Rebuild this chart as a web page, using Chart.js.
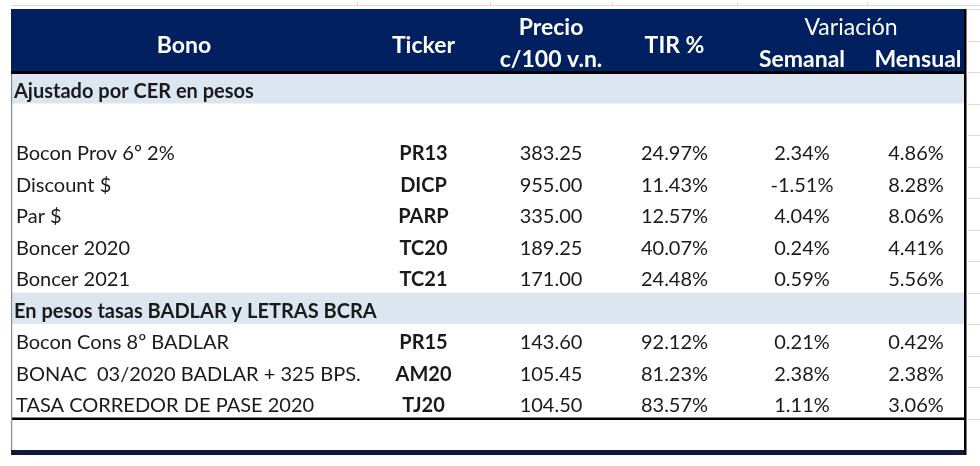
<!DOCTYPE html>
<html>
<head>
<meta charset="utf-8">
<script src="https://cdn.jsdelivr.net/npm/chart.js@4.4.1/dist/chart.umd.min.js"></script>
<style>
  html, body { margin: 0; padding: 0; background: #fff; }
  #wrap { width: 980px; height: 466px; }
</style>
</head>
<body>
<div id="wrap"><canvas id="tabla" width="980" height="466"></canvas></div>
<script>
// datos de la tabla
const secciones = ["Ajustado por CER en pesos", "En pesos tasas BADLAR y LETRAS BCRA"];
const bonos = ["Bocon Prov 6º 2%", "Discount $", "Par $", "Boncer 2020", "Boncer 2021",
  "Bocon Cons 8º BADLAR", "BONAC  03/2020 BADLAR + 325 BPS.", "TASA CORREDOR DE PASE 2020"];
const grupo = [0, 0, 0, 0, 0, 1, 1, 1];
const tickers = ["PR13", "DICP", "PARP", "TC20", "TC21", "PR15", "AM20", "TJ20"];
const precios = [383.25, 955.00, 335.00, 189.25, 171.00, 143.60, 105.45, 104.50];
const tir = [24.97, 11.43, 12.57, 40.07, 24.48, 92.12, 81.23, 83.57];
const semanal = [2.34, -1.51, 4.04, 0.24, 0.59, 0.21, 2.38, 1.11];
const mensual = [4.86, 8.28, 8.06, 4.41, 5.56, 0.42, 2.38, 3.06];
const titulos = ["Bono", "Ticker", "Precio", "c/100 v.n.", "TIR %", "Variación", "Semanal", "Mensual"];

// bordes de columna (unidades del eje x)
const bordes = [0, 346, 479, 601, 726, 856, 954];
const centro = i => (bordes[i] + bordes[i + 1]) / 2;

const NAVY = "#002060";
const CELESTE = "#dce6f1";
const TEXTO = "#1a1a1a";

// filas: 2 de encabezado, seccion, blanco, datos..., seccion, datos..., blanco
const filas = ["h1", "h2"];
secciones.forEach((s, g) => {
  filas.push("s" + g);
  if (g === 0) filas.push("b0");
  bonos.forEach((b, i) => { if (grupo[i] === g) filas.push("r" + i); });
});
filas.push("b1");

const pct = v => v.toFixed(2) + "%";
const columna = (textos, x, font, align, dx) => ({
  data: textos.map((t, i) => ({ x: x, y: "r" + i })),
  textos: textos, font: font, align: align, dx: dx,
  pointRadius: 0
});

const fNormal = "20px Lato";
const fBold = "bold 20px Lato";

const datasets = [
  columna(bonos, bordes[0], fNormal, "left", 5),
  columna(tickers, centro(1), fBold, "center", 0),
  columna(precios.map(v => v.toFixed(2)), centro(2), fNormal, "center", 0),
  columna(tir.map(pct), centro(3), fNormal, "center", 0),
  columna(semanal.map(pct), centro(4), fNormal, "center", 0),
  columna(mensual.map(pct), centro(5), fNormal, "center", 0)
];

const tablaPlugin = {
  id: "tabla",
  beforeDatasetsDraw(chart) {
    const { ctx, scales: { x, y } } = chart;
    const h = y.getPixelForValue(1) - y.getPixelForValue(0);
    const top = k => y.getPixelForValue(filas.indexOf(k)) - h / 2;
    const L = x.getPixelForValue(0), R = x.getPixelForValue(bordes[6]);
    ctx.save();
    // grilla de excel de fondo
    ctx.strokeStyle = "#d9d9d9";
    ctx.lineWidth = 1;
    ctx.beginPath();
    ctx.moveTo(L, 5.5); ctx.lineTo(980, 5.5);
    bordes.slice(1, 6).forEach(b => { const px = Math.round(x.getPixelForValue(b)) + 0.5; ctx.moveTo(px, 2); ctx.lineTo(px, 6); });
    filas.forEach((k, i) => { const py = Math.round(top(k)) + 0.5; ctx.moveTo(R + 3, py); ctx.lineTo(980, py); });
    ctx.stroke();
    // encabezado
    ctx.fillStyle = NAVY;
    ctx.fillRect(L, top("h1"), R - L, 2 * h);
    // secciones
    ctx.fillStyle = CELESTE;
    secciones.forEach((s, g) => ctx.fillRect(L, top("s" + g), R - L, h));
    // lineas
    ctx.fillStyle = "#000";
    ctx.fillRect(L, top("s0") - 1, R - L, 3);
    ctx.fillRect(L, top("b1") - 1, R - L, 2.5);
    ctx.fillStyle = "#0d1a3a";
    ctx.fillRect(L, top("b1") + h, R - L, 5);
    ctx.fillStyle = "#000";
    ctx.fillRect(R - 1, top("h1"), 2.5, top("b1") + h + 5 - top("h1"));
    ctx.fillStyle = "#8c8c8c";
    ctx.fillRect(L, top("s0") + 2, 1.2, top("b1") + h - top("s0") - 2);
    // texto de encabezado
    ctx.fillStyle = "#fff";
    ctx.textAlign = "center";
    ctx.textBaseline = "alphabetic";
    const y1 = top("h1") + h / 2 + 10, y2 = top("h2") + h / 2 + 11, ym = top("h2") + 12.5;
    ctx.font = "bold 23px Lato";
    ctx.fillText(titulos[0], x.getPixelForValue(centro(0)), ym);
    ctx.fillText(titulos[1], x.getPixelForValue(centro(1)), ym);
    ctx.fillText(titulos[2], x.getPixelForValue(centro(2)), y1);
    ctx.fillText(titulos[3], x.getPixelForValue(centro(2)), y2);
    ctx.fillText(titulos[4], x.getPixelForValue(centro(3)), ym);
    ctx.fillText(titulos[6], x.getPixelForValue(centro(4)), y2);
    ctx.fillText(titulos[7], x.getPixelForValue(centro(5)) + 2, y2);
    ctx.font = "23px Lato";
    ctx.fillText(titulos[5], x.getPixelForValue((bordes[4] + bordes[6]) / 2), y1);
    // texto de secciones
    ctx.fillStyle = TEXTO;
    ctx.textAlign = "left";
    ctx.font = "bold 20px Lato";
    secciones.forEach((s, g) => ctx.fillText(s, L + 3, top("s" + g) + h / 2 + 10));
    ctx.restore();
  },
  afterDatasetsDraw(chart) {
    const { ctx } = chart;
    ctx.save();
    ctx.fillStyle = TEXTO;
    ctx.textBaseline = "alphabetic";
    chart.data.datasets.forEach((ds, i) => {
      const meta = chart.getDatasetMeta(i);
      ctx.font = ds.font;
      ctx.textAlign = ds.align;
      meta.data.forEach((pt, j) => ctx.fillText(ds.textos[j], pt.x + ds.dx, pt.y + 9.5));
    });
    ctx.restore();
  }
};

new Chart(document.getElementById("tabla"), {
  type: "scatter",
  data: { datasets: datasets },
  options: {
    responsive: false,
    devicePixelRatio: 1,
    animation: false,
    events: [],
    layout: { padding: { left: 11, right: 15, top: 9, bottom: 16 } },
    plugins: { legend: { display: false }, tooltip: { enabled: false } },
    scales: {
      x: { type: "linear", min: 0, max: bordes[6], display: false },
      y: { type: "category", labels: filas, offset: true, display: false }
    }
  },
  plugins: [tablaPlugin]
});
</script>
</body>
</html>
